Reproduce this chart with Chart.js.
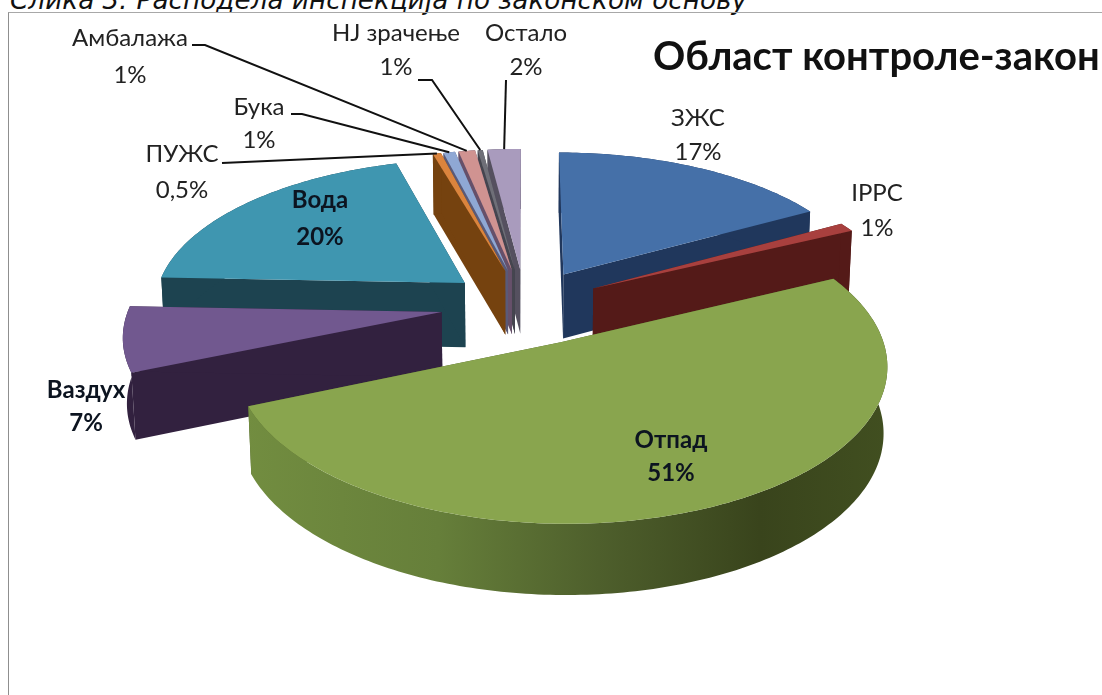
<!DOCTYPE html>
<html lang="sr">
<head>
    <meta charset="UTF-8">
    <title>Област контроле</title>
    <script src="https://cdn.jsdelivr.net/npm/chart.js"></script>
    <style>
        html, body { margin: 0; height: 100%; overflow: hidden; background: #ffffff; }
        #caption {
            position: absolute; left: 10px; top: -15px; white-space: nowrap;
            font: italic 26.3px "DejaVu Sans", sans-serif; color: #111111;
        }
        #frame {
            position: absolute; left: 8px; top: 12px; right: 0; bottom: 0;
            border-left: 1px solid #8f8f8f; border-top: 1px solid #a8a8a8;
        }
        #chartCanvas { position: absolute; left: 0; top: 0; }
    </style>
</head>
<body>
    <div id="caption">Слика 3: Расподела инспекција по законском основу</div>
    <div id="frame"></div>
    <canvas id="chartCanvas" width="1102" height="695"></canvas>
    <script>
        const categories = ["ЗЖС", "IPPC", "Отпад", "Ваздух", "Вода", "ПУЖС", "Бука", "Амбалажа", "НЈ зрачење", "Остало"];
        const shares = [17, 1, 51, 7, 20, 0.5, 0.7, 1, 0.3, 2];
        const percentLabels = ["17%", "1%", "51%", "7%", "20%", "0,5%", "1%", "1%", "1%", "2%"];
        const explodePercent = [25, 25, 27, 27, 25, 25, 25, 25, 25, 25];

        const topColors = ["#4570a8", "#a8403e", "#89a54e", "#71588f", "#3f96b0", "#db843d", "#8fa8d4", "#d09391", "#6f6f78", "#a99bbd"];
        const wallColors = ["#20375c", "#541a18", "#4e5f2a", "#32213f", "#1d4350", "#75420f", "#5a5a78", "#66506a", "#45454f", "#55505f"];
        const drawOrder = [9, 8, 7, 6, 5, 0, 1, 4, 3, 2];

        // label text: centre x, y of name, y of percent, bold
        const labelX = [698, 877, 671, 86, 320, 182, 259, 130, 396, 526];
        const nameY = [118, 193, 440, 390, 200, 154, 107, 38, 33, 33];
        const percentY = [152, 228, 473, 423, 237, 190, 140, 75, 67, 67];
        const boldLabels = [false, false, true, true, true, false, false, false, false, false];

        // leaders: start of the line and its elbow, the end sits on the slice
        const leaderStart = { 5: [222, 163], 6: [291, 114], 7: [192, 45], 8: [418, 80], 9: [506, 80] };
        const leaderElbow = { 5: [222, 163], 6: [302, 114], 7: [205, 45], 8: [432, 80], 9: [506, 80] };

        // view of the tilted pie
        const PERSPECTIVE = 0.135;
        const FLAT_X = 312;
        const FLAT_Y = 146;
        const DEPTH = 65;
        const NARROW = 0.01;
        const LABEL_FONT = '"Lato", "Open Sans", sans-serif';

        function project(arc, i, t, angle, h) {
            const mid = (arc.startAngle + arc.endAngle) / 2;
            const o = explodePercent[i] / 100;
            const px = o * Math.cos(mid) + t * Math.cos(angle);
            const py = o * Math.sin(mid) + t * Math.sin(angle);
            const w = 1 - PERSPECTIVE * py;
            return {
                x: arc.x + FLAT_X * px / (w + NARROW * h),
                y: arc.y + FLAT_Y * py / w + DEPTH * h / Math.sqrt(w)
            };
        }

        function fillPoly(ctx, points, color) {
            ctx.beginPath();
            points.forEach((p, n) => n ? ctx.lineTo(p.x, p.y) : ctx.moveTo(p.x, p.y));
            ctx.closePath();
            ctx.fillStyle = color;
            ctx.fill();
        }

        function arcPoints(arc, i, h) {
            const pts = [];
            const steps = Math.max(4, Math.ceil((arc.endAngle - arc.startAngle) * 60));
            for (let s = 0; s <= steps; s++) {
                pts.push(project(arc, i, 1, arc.startAngle + (arc.endAngle - arc.startAngle) * s / steps, h));
            }
            return pts;
        }

        function outerWallColor(ctx, i) {
            if (i === 2) {
                const g = ctx.createLinearGradient(245, 0, 888, 0);
                g.addColorStop(0, "#728d40");
                g.addColorStop(0.3, "#667f3a");
                g.addColorStop(0.55, "#4e5f2c");
                g.addColorStop(0.8, "#39441c");
                g.addColorStop(1, "#414f20");
                return g;
            }
            return wallColors[i];
        }

        const pie3d = {
            id: "pie3d",
            beforeDatasetsDraw(chart) {
                const ctx = chart.ctx;
                const arcs = chart.getDatasetMeta(0).data;
                ctx.save();
                drawOrder.forEach(i => {
                    const arc = arcs[i];
                    const cutWall = angle => [
                        project(arc, i, 0, angle, 0), project(arc, i, 1, angle, 0),
                        project(arc, i, 1, angle, 1), project(arc, i, 0, angle, 1)
                    ];
                    fillPoly(ctx, cutWall(arc.startAngle), wallColors[i]);
                    fillPoly(ctx, cutWall(arc.endAngle), wallColors[i]);
                    fillPoly(ctx, arcPoints(arc, i, 0).concat(arcPoints(arc, i, 1).reverse()), outerWallColor(ctx, i));
                    fillPoly(ctx, [project(arc, i, 0, arc.startAngle, 0)].concat(arcPoints(arc, i, 0)), topColors[i]);
                });
                ctx.restore();
                return false;
            },
            afterDraw(chart) {
                const ctx = chart.ctx;
                const arcs = chart.getDatasetMeta(0).data;
                ctx.save();
                ctx.strokeStyle = "#111111";
                ctx.lineWidth = 2;
                Object.keys(leaderStart).forEach(i => {
                    const arc = arcs[i];
                    const end = project(arc, +i, 1, (arc.startAngle + arc.endAngle) / 2, 0);
                    ctx.beginPath();
                    ctx.moveTo(leaderStart[i][0], leaderStart[i][1]);
                    ctx.lineTo(leaderElbow[i][0], leaderElbow[i][1]);
                    ctx.lineTo(end.x, end.y);
                    ctx.stroke();
                });
                ctx.textAlign = "center";
                ctx.textBaseline = "middle";
                categories.forEach((name, i) => {
                    ctx.font = (boldLabels[i] ? "bold " : "") + "24px " + LABEL_FONT;
                    ctx.fillStyle = boldLabels[i] ? "#0c1420" : "#222222";
                    ctx.fillText(name, labelX[i], nameY[i]);
                    ctx.fillText(percentLabels[i], labelX[i], percentY[i]);
                });
                ctx.textAlign = "left";
                ctx.font = "bold 40px " + LABEL_FONT;
                ctx.fillStyle = "#111111";
                ctx.fillText("Област контроле-закон", 653, 57);
                ctx.restore();
            }
        };

        new Chart(document.getElementById("chartCanvas"), {
            type: "pie",
            data: {
                labels: categories,
                datasets: [{ data: shares, backgroundColor: topColors, borderWidth: 0 }]
            },
            options: {
                responsive: false,
                animation: false,
                // puts the pie centre where the slices explode from
                layout: { padding: { right: 52, bottom: 85 } },
                plugins: { legend: { display: false }, tooltip: { enabled: false } }
            },
            plugins: [pie3d]
        });
    </script>
</body>
</html>
